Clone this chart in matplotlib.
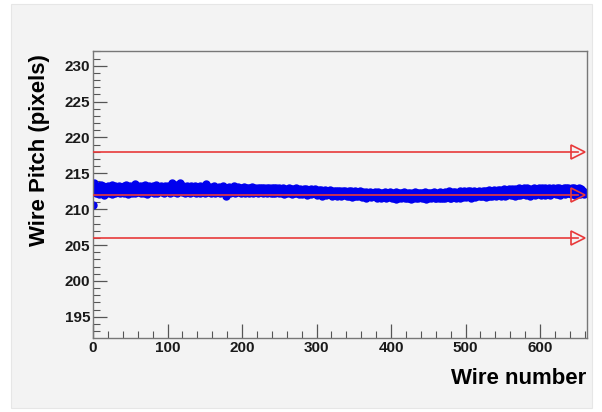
import matplotlib.pyplot as plt
import matplotlib.patches as patches
import numpy as np
from matplotlib.ticker import MultipleLocator

pitch = [
    210.6, 213.6, 212.4, 213.1, 212.2, 212.9, 213.3, 212.5, 212.1, 213.0, 212.7, 213.4, 212.3, 212.8, 213.2, 212.0, 212.6, 213.1, 212.4, 212.9,
    213.3, 212.2, 212.7, 213.0, 212.5, 213.4, 212.1, 212.9, 212.6, 213.2, 212.3, 212.8, 213.1, 212.4, 212.7, 213.3, 212.2, 212.9, 212.5, 213.0,
    212.6, 213.2, 212.3, 212.9, 213.4, 212.5, 212.8, 212.1, 213.1, 212.7, 213.3, 212.4, 212.9, 212.2, 213.0, 212.6, 213.5, 212.3, 212.8, 213.1,
    212.4, 213.0, 212.7, 213.3, 212.2, 212.9, 212.5, 213.2, 212.8, 212.3, 213.4, 212.6, 213.0, 212.1, 212.7, 213.3, 212.4, 212.9, 213.1, 212.5,
    212.8, 213.2, 212.3, 213.0, 212.6, 213.4, 212.2, 212.9, 212.5, 213.1, 212.7, 213.3, 212.4, 212.8, 213.0, 212.2, 212.9, 213.2, 212.6, 213.0,
    212.5, 213.3, 212.8, 213.1, 212.3, 212.9, 213.6, 212.6, 213.0, 212.4, 213.2, 212.7, 213.4, 212.2, 212.9, 213.1, 212.5, 213.7, 212.8, 213.0,
    212.4, 213.2, 212.7, 213.0, 212.3, 212.9, 213.3, 212.5, 212.8, 213.1, 212.2, 212.7, 213.2, 212.4, 212.9, 213.0, 212.6, 213.3, 212.3, 212.8,
    213.1, 212.5, 212.9, 213.2, 212.3, 212.7, 213.0, 212.4, 212.8, 213.3, 212.2, 212.9, 213.5, 212.6, 213.0, 212.4, 212.8, 213.1, 212.3, 212.7,
    213.0, 212.4, 212.8, 213.2, 212.3, 212.7, 213.0, 212.5, 212.9, 213.1, 212.2, 212.6, 213.0, 212.4, 212.8, 213.2, 212.5, 212.9, 211.9, 212.7,
    213.0, 212.4, 212.8, 213.1, 212.3, 212.6, 213.0, 212.5, 212.9, 213.2, 212.3, 212.7, 213.0, 212.4, 212.8, 213.1, 212.5, 212.9, 212.2, 212.7,
    213.0, 212.4, 212.7, 213.1, 212.3, 212.8, 213.0, 212.5, 212.9, 212.2, 212.6, 213.0, 212.4, 212.8, 213.1, 212.3, 212.7, 212.9, 212.5, 212.8,
    212.6, 213.0, 212.3, 212.7, 212.9, 212.4, 212.8, 213.0, 212.2, 212.6, 212.9, 212.4, 212.7, 213.0, 212.3, 212.6, 212.9, 212.5, 212.8, 212.2,
    212.9, 212.3, 212.6, 212.9, 212.2, 212.7, 213.0, 212.4, 212.6, 212.9, 212.2, 212.5, 212.8, 212.3, 212.7, 212.9, 212.1, 212.6, 212.8, 212.4,
    212.7, 212.2, 212.5, 212.9, 212.3, 212.6, 212.8, 212.1, 212.5, 212.8, 212.3, 212.6, 212.9, 212.2, 212.5, 212.7, 212.1, 212.6, 212.8, 212.3,
    212.7, 212.1, 212.5, 212.8, 212.2, 212.6, 212.8, 212.0, 212.4, 212.7, 212.2, 212.5, 212.8, 212.1, 212.4, 212.7, 212.2, 212.6, 212.8, 212.3,
    212.6, 212.0, 212.4, 212.7, 212.1, 212.5, 212.7, 211.9, 212.3, 212.6, 212.1, 212.4, 212.7, 212.0, 212.3, 212.6, 212.1, 212.5, 212.7, 212.2,
    212.5, 211.9, 212.3, 212.6, 212.0, 212.4, 212.6, 211.8, 212.2, 212.5, 212.0, 212.3, 212.6, 211.9, 212.2, 212.5, 212.0, 212.4, 212.6, 212.1,
    212.4, 211.8, 212.2, 212.5, 211.9, 212.3, 212.5, 211.7, 212.1, 212.4, 211.9, 212.2, 212.5, 211.8, 212.1, 212.4, 211.9, 212.3, 212.5, 212.0,
    212.3, 211.7, 212.1, 212.4, 211.8, 212.2, 212.4, 211.6, 212.0, 212.3, 211.8, 212.1, 212.4, 211.7, 212.0, 212.3, 211.8, 212.2, 212.4, 211.9,
    212.2, 211.6, 212.0, 212.4, 211.7, 212.1, 212.3, 211.5, 212.0, 212.3, 211.7, 212.1, 212.4, 211.6, 212.0, 212.2, 211.7, 212.1, 212.4, 211.8,
    212.2, 211.5, 212.0, 212.3, 211.6, 212.1, 212.4, 211.4, 211.9, 212.2, 211.6, 212.0, 212.3, 211.5, 211.9, 212.2, 211.7, 212.1, 212.4, 211.6,
    212.1, 211.5, 211.9, 212.3, 211.6, 212.0, 212.3, 211.4, 211.8, 212.2, 211.6, 212.0, 212.4, 211.5, 211.9, 212.2, 211.6, 212.1, 212.3, 211.7,
    212.2, 211.5, 211.9, 212.3, 211.6, 212.0, 212.4, 211.4, 211.9, 212.2, 211.6, 212.0, 212.3, 211.5, 211.9, 212.2, 211.7, 212.1, 212.4, 211.6,
    212.1, 211.5, 212.0, 212.3, 211.6, 212.0, 212.4, 211.5, 211.9, 212.3, 211.6, 212.1, 212.4, 211.5, 212.0, 212.3, 211.7, 212.1, 212.5, 211.6,
    212.2, 211.6, 212.0, 212.4, 211.7, 212.1, 212.4, 211.5, 212.0, 212.3, 211.7, 212.1, 212.5, 211.6, 212.0, 212.3, 211.7, 212.2, 212.5, 211.8,
    212.3, 211.7, 212.1, 212.5, 211.8, 212.2, 212.5, 211.6, 212.1, 212.4, 211.8, 212.2, 212.6, 211.7, 212.1, 212.4, 211.8, 212.3, 212.6, 211.9,
    212.4, 211.8, 212.2, 212.6, 211.9, 212.3, 212.6, 211.7, 212.2, 212.5, 211.9, 212.3, 212.7, 211.8, 212.2, 212.5, 211.9, 212.4, 212.7, 212.0,
    212.5, 211.9, 212.3, 212.7, 212.0, 212.4, 212.7, 211.8, 212.3, 212.6, 212.0, 212.4, 212.8, 211.9, 212.3, 212.6, 212.0, 212.5, 212.8, 212.1,
    212.6, 212.0, 212.4, 212.8, 212.0, 212.4, 212.8, 211.9, 212.3, 212.7, 212.0, 212.5, 212.9, 212.0, 212.4, 212.7, 212.1, 212.5, 212.9, 212.1,
    212.6, 212.0, 212.5, 212.9, 212.1, 212.5, 212.8, 211.9, 212.4, 212.7, 212.1, 212.5, 213.0, 212.0, 212.4, 212.8, 212.1, 212.6, 212.9, 212.2,
    212.7, 212.0, 212.5, 212.9, 212.1, 212.6, 212.9, 212.0, 212.4, 212.8, 212.1, 212.5, 213.0, 212.0, 212.5, 212.8, 212.2, 212.6, 213.0, 212.2,
    212.7, 212.1, 212.5, 212.9, 212.1, 212.6, 213.0, 212.0, 212.4, 212.8, 212.2, 212.6, 213.0, 212.1, 212.5, 212.9, 212.2, 212.6, 213.0, 212.3,
    212.7, 212.1, 212.5, 212.9, 212.2, 212.6, 213.0, 212.0, 212.5, 212.8, 212.2, 212.6, 213.0, 212.1, 212.5, 212.8, 212.3, 212.6, 212.4, 212.1,
]
wire = np.arange(len(pitch))

# reference lines: upper limit, nominal, lower limit
ref_levels = [218, 212, 206]
ref_end = 651

fig = plt.figure(figsize=(6.02, 4.12), dpi=100, facecolor='white')
fig.patches.append(patches.Rectangle((11/602, 4/412), 581/602, 404/412,
                                     transform=fig.transFigure, facecolor='#f3f3f3',
                                     edgecolor='#e6e6e6', lw=0.8, zorder=-1))

ax = fig.add_axes([93/602, 74/412, 494/602, 287/412])
ax.set_facecolor('#f3f3f3')

ax.plot(wire, pitch, 'o', color='#0000ee', ms=5, mec='#0000ee', zorder=2)

for lv in ref_levels:
    ax.plot([0, ref_end], [lv, lv], color='#e8393a', lw=1.2, zorder=3)
    ax.plot([ref_end], [lv], marker='>', ms=10, mfc='none', mec='#e8393a', mew=1.2, zorder=3)

ax.set_xlim(0, 663)
ax.set_ylim(192.05, 232.05)

ax.xaxis.set_major_locator(MultipleLocator(100))
ax.xaxis.set_minor_locator(MultipleLocator(20))
ax.yaxis.set_major_locator(MultipleLocator(5))
ax.yaxis.set_minor_locator(MultipleLocator(1))
ax.yaxis.set_major_formatter(plt.FuncFormatter(lambda v, p: '%d' % v if v < 231 else ''))

ax.tick_params(which='both', direction='in', color='#555555', top=False, right=False)
ax.tick_params(which='major', length=10, width=0.9, pad=2)
ax.tick_params(which='minor', length=5, width=0.8)
for lbl in ax.get_xticklabels() + ax.get_yticklabels():
    lbl.set_fontfamily('Liberation Sans')
    lbl.set_fontweight('bold')
    lbl.set_fontsize(11)
    lbl.set_color('#1a1a1a')

for s in ax.spines.values():
    s.set_color('#777777')
    s.set_linewidth(1.0)

fig.text(40/602, 1 - 150/412, 'Wire Pitch (pixels)', rotation=90, ha='center', va='center',
         fontsize=16, fontweight='bold', family='Liberation Sans')
fig.text(586/602, 1 - 378/412, 'Wire number', ha='right', va='center',
         fontsize=16, fontweight='bold', family='Liberation Sans')

fig.savefig('out.png', dpi=100, facecolor='white')
